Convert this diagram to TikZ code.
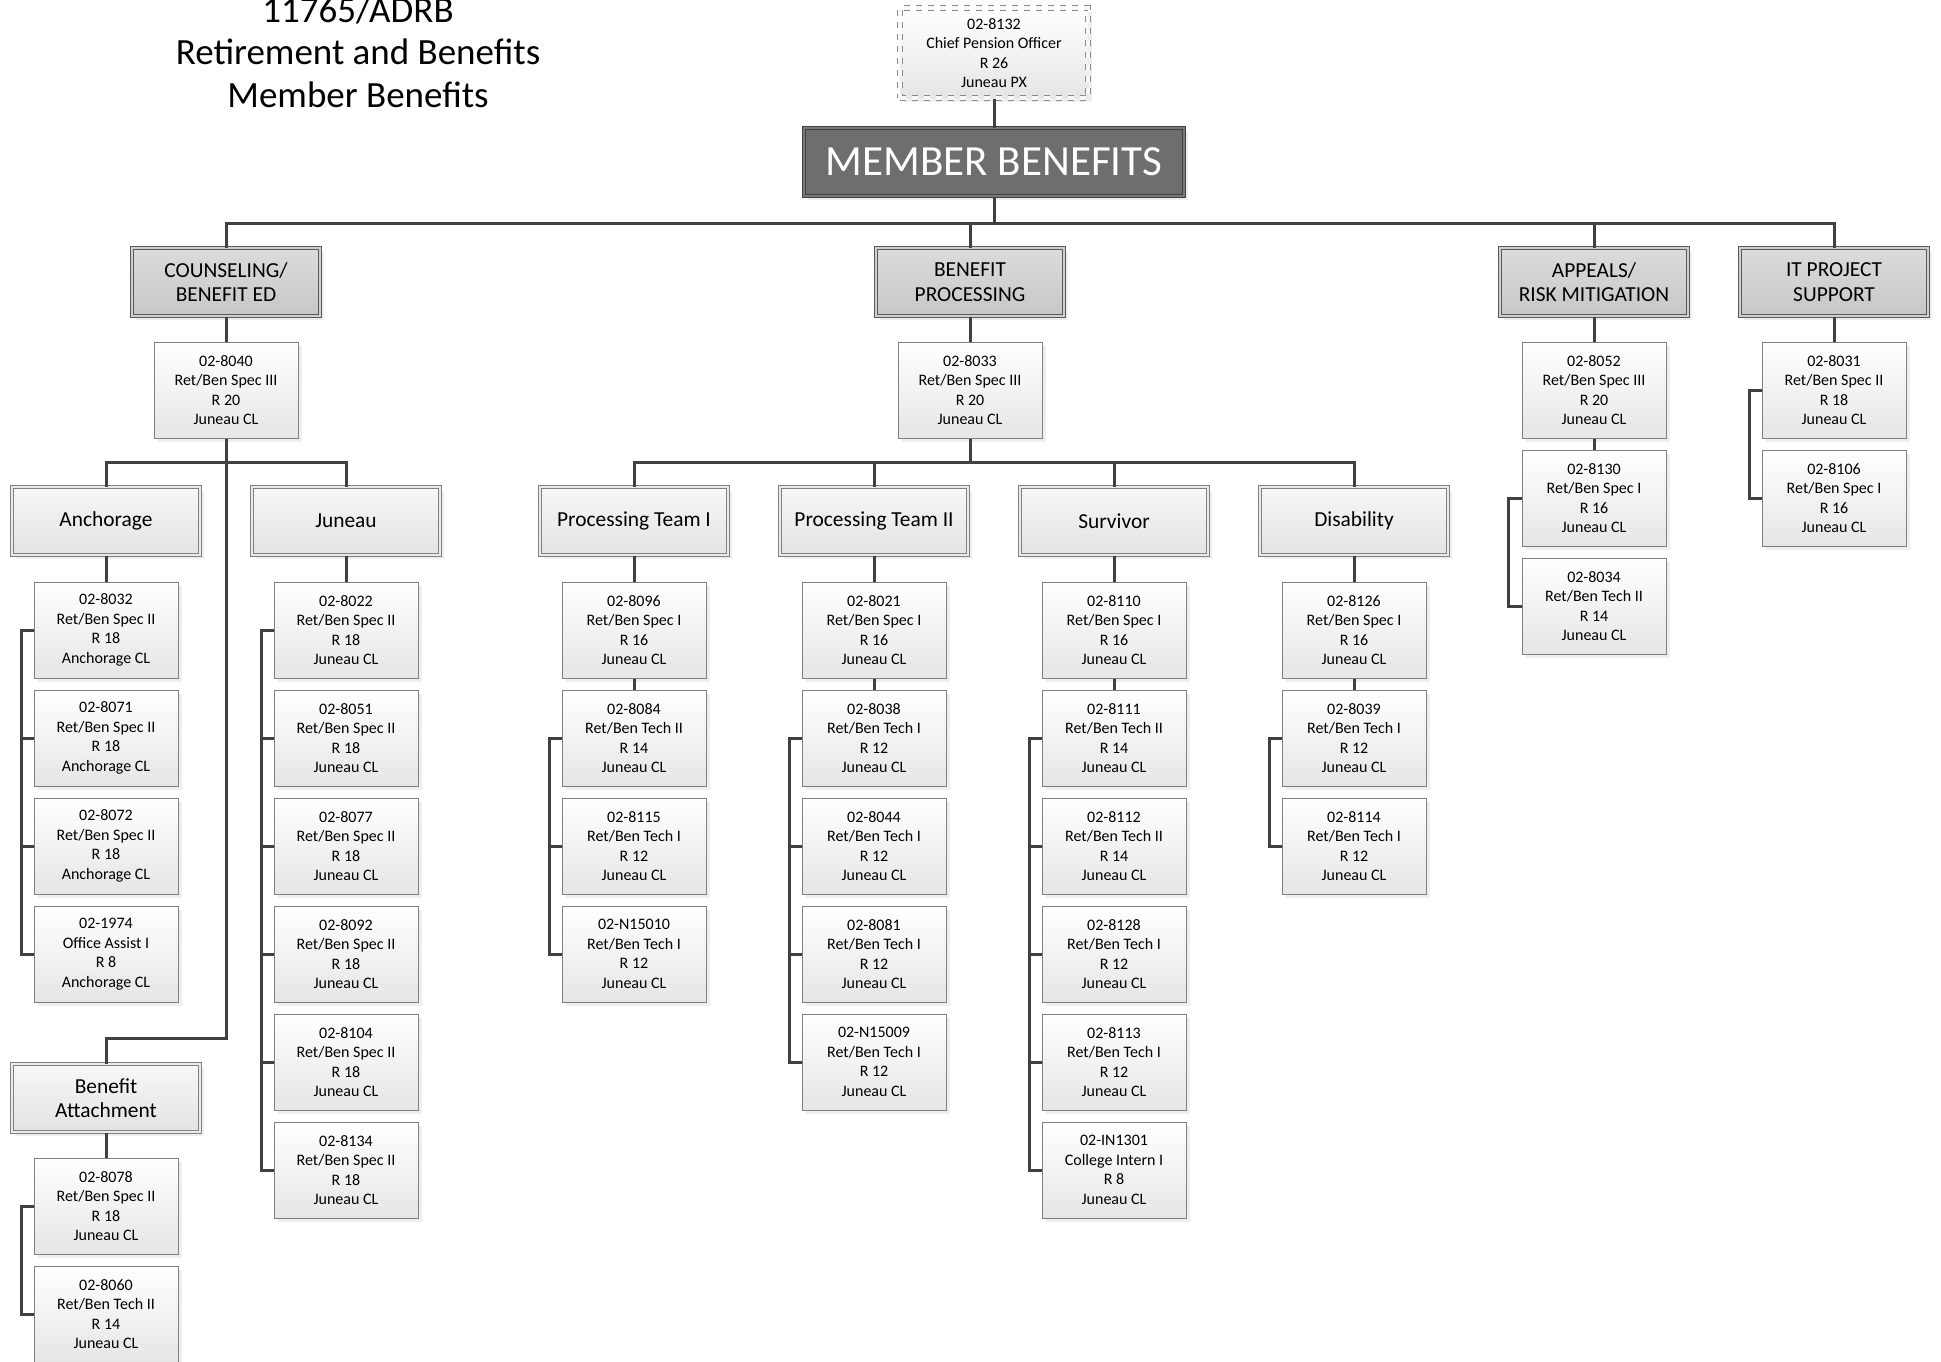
\documentclass[tikz,border=0pt]{standalone}
\usepackage{fontspec}
\setmainfont{Carlito}
\usetikzlibrary{shadows}

\begin{document}
\begin{tikzpicture}[
    x=0.5pt, y=-0.5pt,
    link/.style={draw=black!75, line width=1.5pt},
    boxshadow/.style={drop shadow={shadow xshift=1.8pt, shadow yshift=-1.8pt, fill=black!13}},
    pcnbox/.style={draw=black!50, line width=0.5pt, top color=white, bottom color=black!10, minimum width=72pt, minimum height=48pt, inner sep=0pt, align=center, font=\fontsize{8}{9.8}\selectfont, boxshadow},
    teambox/.style={draw=black!50, line width=0.5pt, double=black!8, double distance=1.2pt, top color=black!3, bottom color=black!11, minimum width=94pt, minimum height=34pt, inner sep=0pt, align=center, font=\fontsize{10.7}{12.2}\selectfont, boxshadow},
    unitbox/.style={teambox, draw=black!65, double=black!19, top color=black!14, bottom color=black!22},
    mainbox/.style={draw=black!75, line width=0.5pt, double=black!52, double distance=1.4pt, fill=black!57, text=white, minimum width=190pt, minimum height=34pt, inner sep=0pt, font=\fontsize{21.5}{24}\selectfont, boxshadow},
    chiefbox/.style={pcnbox, draw=black!45, dashed, double=black!3, double distance=2.2pt, minimum width=94pt, minimum height=45pt}
]
    \useasboundingbox (0,0) rectangle (1941,1361);

    % --- Titel ---
    \node[font=\fontsize{18.5}{21.25}\selectfont, align=center] (title) at (358,52) {11765/ADRB\\Retirement and Benefits\\Member Benefits};

    % --- Spitze ---
    \node[chiefbox] (chief) at (994,53) {02-8132\\Chief Pension Officer\\R 26\\Juneau PX};
    \node[mainbox] (mb) at (994,162) {MEMBER BENEFITS};
    \draw[link] (chief) -- (mb);

    % --- Bereiche ---
    \node[unitbox] (cbe) at (226,282) {COUNSELING/\\BENEFIT ED};
    \node[unitbox] (bp) at (970,282) {BENEFIT\\PROCESSING};
    \node[unitbox] (arm) at (1594,282) {APPEALS/\\RISK MITIGATION};
    \node[unitbox] (itp) at (1834,282) {IT PROJECT\\SUPPORT};
    \coordinate (mbus) at (994,223);
    \draw[link] (mb) -- (mbus);
    \foreach \u in {cbe,bp,arm,itp} {
        \draw[link] (mbus) -| (\u.north);
    }

    % --- Leitstellen ---
    \node[pcnbox] (c8040) at (226,390) {02-8040\\Ret/Ben Spec III\\R 20\\Juneau CL};
    \node[pcnbox] (b8033) at (970,390) {02-8033\\Ret/Ben Spec III\\R 20\\Juneau CL};
    \node[pcnbox] (a8052) at (1594,390) {02-8052\\Ret/Ben Spec III\\R 20\\Juneau CL};
    \node[pcnbox] (a8130) at (1594,498) {02-8130\\Ret/Ben Spec I\\R 16\\Juneau CL};
    \node[pcnbox] (a8034) at (1594,606) {02-8034\\Ret/Ben Tech II\\R 14\\Juneau CL};
    \node[pcnbox] (i8031) at (1834,390) {02-8031\\Ret/Ben Spec II\\R 18\\Juneau CL};
    \node[pcnbox] (i8106) at (1834,498) {02-8106\\Ret/Ben Spec I\\R 16\\Juneau CL};
    \foreach \u/\p in {cbe/c8040, bp/b8033, arm/a8052, itp/i8031} {
        \draw[link] (\u.south) -- (\p.north);
    }
    \draw[link] (a8052.south) -- (a8130.north);
    \draw[link] (a8130.west) -- ++(-13,0) |- (a8034.west);
    \draw[link] (i8031.west) -- ++(-12,0) |- (i8106.west);

    % --- Teams ---
    \node[teambox] (anc) at (106,521) {Anchorage};
    \node[teambox] (jun) at (346,521) {Juneau};
    \node[teambox] (ba) at (106,1098) {Benefit\\Attachment};
    \foreach \t/\name [count=\k] in {pt1/Processing Team I, pt2/Processing Team II, sur/Survivor, dis/Disability} {
        \node[teambox] (\t) at ({634+240*(\k-1)},521) {\name};
    }
    \coordinate (cbus) at (226,462);
    \coordinate (cbend) at (106,1038);
    \draw[link] (c8040.south) |- (cbend) -- (ba.north);
    \draw[link] (cbus) -| (anc.north);
    \draw[link] (cbus) -| (jun.north);
    \coordinate (bbus) at (970,462);
    \draw[link] (b8033.south) -- (bbus);
    \foreach \t in {pt1,pt2,sur,dis} {
        \draw[link] (bbus) -| (\t.north);
    }

    % --- Anchorage ---
    \foreach \txt [count=\i] in {{02-8032\\Ret/Ben Spec II\\R 18\\Anchorage CL}, {02-8071\\Ret/Ben Spec II\\R 18\\Anchorage CL}, {02-8072\\Ret/Ben Spec II\\R 18\\Anchorage CL}, {02-1974\\Office Assist I\\R 8\\Anchorage CL}} {
        \node[pcnbox] (anc\i) at (106,{630+108*(\i-1)}) {\txt};
    }
    \draw[link] (anc.south) -- (anc1.north);
    \draw[link] (anc1.west) -- ++(-12,0) |- (anc4.west);
    \foreach \i in {2,3} \draw[link] (anc\i.west) -- ++(-12,0);

    % --- Juneau ---
    \foreach \txt [count=\i] in {{02-8022\\Ret/Ben Spec II\\R 18\\Juneau CL}, {02-8051\\Ret/Ben Spec II\\R 18\\Juneau CL}, {02-8077\\Ret/Ben Spec II\\R 18\\Juneau CL}, {02-8092\\Ret/Ben Spec II\\R 18\\Juneau CL}, {02-8104\\Ret/Ben Spec II\\R 18\\Juneau CL}, {02-8134\\Ret/Ben Spec II\\R 18\\Juneau CL}} {
        \node[pcnbox] (jun\i) at (346,{630+108*(\i-1)}) {\txt};
    }
    \draw[link] (jun.south) -- (jun1.north);
    \draw[link] (jun1.west) -- ++(-12,0) |- (jun6.west);
    \foreach \i in {2,...,5} \draw[link] (jun\i.west) -- ++(-12,0);

    % --- Benefit Attachment ---
    \node[pcnbox] (ba1) at (106,1206) {02-8078\\Ret/Ben Spec II\\R 18\\Juneau CL};
    \node[pcnbox] (ba2) at (106,1314) {02-8060\\Ret/Ben Tech II\\R 14\\Juneau CL};
    \draw[link] (ba.south) -- (ba1.north);
    \draw[link] (ba1.west) -- ++(-12,0) |- (ba2.west);

    % --- Processing Team I ---
    \foreach \txt [count=\i] in {{02-8096\\Ret/Ben Spec I\\R 16\\Juneau CL}, {02-8084\\Ret/Ben Tech II\\R 14\\Juneau CL}, {02-8115\\Ret/Ben Tech I\\R 12\\Juneau CL}, {02-N15010\\Ret/Ben Tech I\\R 12\\Juneau CL}} {
        \node[pcnbox] (pa\i) at (634,{630+108*(\i-1)}) {\txt};
    }
    \draw[link] (pt1.south) -- (pa1.north);
    \draw[link] (pa1.south) -- (pa2.north);
    \draw[link] (pa2.west) -- ++(-12,0) |- (pa4.west);
    \draw[link] (pa3.west) -- ++(-12,0);

    % --- Processing Team II ---
    \foreach \txt [count=\i] in {{02-8021\\Ret/Ben Spec I\\R 16\\Juneau CL}, {02-8038\\Ret/Ben Tech I\\R 12\\Juneau CL}, {02-8044\\Ret/Ben Tech I\\R 12\\Juneau CL}, {02-8081\\Ret/Ben Tech I\\R 12\\Juneau CL}, {02-N15009\\Ret/Ben Tech I\\R 12\\Juneau CL}} {
        \node[pcnbox] (pb\i) at (874,{630+108*(\i-1)}) {\txt};
    }
    \draw[link] (pt2.south) -- (pb1.north);
    \draw[link] (pb1.south) -- (pb2.north);
    \draw[link] (pb2.west) -- ++(-12,0) |- (pb5.west);
    \foreach \i in {3,4} \draw[link] (pb\i.west) -- ++(-12,0);

    % --- Survivor ---
    \foreach \txt [count=\i] in {{02-8110\\Ret/Ben Spec I\\R 16\\Juneau CL}, {02-8111\\Ret/Ben Tech II\\R 14\\Juneau CL}, {02-8112\\Ret/Ben Tech II\\R 14\\Juneau CL}, {02-8128\\Ret/Ben Tech I\\R 12\\Juneau CL}, {02-8113\\Ret/Ben Tech I\\R 12\\Juneau CL}, {02-IN1301\\College Intern I\\R 8\\Juneau CL}} {
        \node[pcnbox] (sv\i) at (1114,{630+108*(\i-1)}) {\txt};
    }
    \draw[link] (sur.south) -- (sv1.north);
    \draw[link] (sv1.south) -- (sv2.north);
    \draw[link] (sv2.west) -- ++(-12,0) |- (sv6.west);
    \foreach \i in {3,4,5} \draw[link] (sv\i.west) -- ++(-12,0);

    % --- Disability ---
    \foreach \txt [count=\i] in {{02-8126\\Ret/Ben Spec I\\R 16\\Juneau CL}, {02-8039\\Ret/Ben Tech I\\R 12\\Juneau CL}, {02-8114\\Ret/Ben Tech I\\R 12\\Juneau CL}} {
        \node[pcnbox] (ds\i) at (1354,{630+108*(\i-1)}) {\txt};
    }
    \draw[link] (dis.south) -- (ds1.north);
    \draw[link] (ds1.south) -- (ds2.north);
    \draw[link] (ds2.west) -- ++(-12,0) |- (ds3.west);

\end{tikzpicture}
\end{document}
